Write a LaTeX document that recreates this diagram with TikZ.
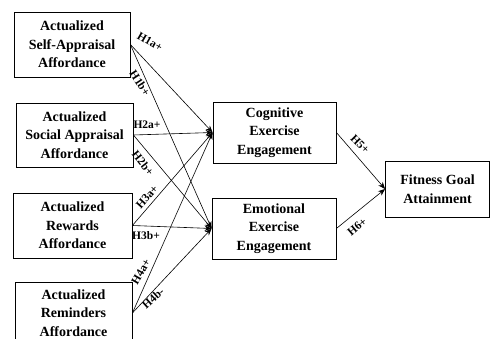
\documentclass[tikz,border=0pt]{standalone}
\usepackage{fontspec}
\setmainfont{Liberation Serif}
\usetikzlibrary{arrows.meta}
\begin{document}
\begin{tikzpicture}[x=1pt,y=-1pt,
  box/.style={draw,line width=0.8pt,align=center,inner sep=0pt,
    font=\bfseries\fontsize{14}{18.5}\selectfont},
  link/.style={line width=0.6pt,-{Stealth[length=7pt,width=5.5pt]}},
  hyp/.style={font=\bfseries\fontsize{11.5}{12}\selectfont,inner sep=0pt}]
\useasboundingbox (0,0) rectangle (490,339);
\fill[white] (0,0) rectangle (490,339);
\node[box,minimum width=116pt,minimum height=65pt] (sa) at (72,44.5) {Actualized\\Self-Appraisal\\Affordance};
\node[box,minimum width=117pt,minimum height=64pt] (so) at (74.5,135) {Actualized\\Social Appraisal\\Affordance};
\node[box,minimum width=119pt,minimum height=65pt] (rw) at (72.5,225.5) {Actualized\\Rewards\\Affordance};
\node[box,minimum width=117pt,minimum height=62pt] (rm) at (73.5,313) {Actualized\\Reminders\\Affordance};
\node[box,minimum width=123pt,minimum height=61pt] (cg) at (274.5,132.5) {Cognitive\\Exercise\\Engagement};
\node[box,minimum width=124pt,minimum height=61pt] (em) at (274,228.5) {Emotional\\Exercise\\Engagement};
\node[box,minimum width=104pt,minimum height=56pt] (fg) at (437.5,189) {Fitness Goal\\Attainment};
\foreach \s in {sa,so,rw,rm}{
  \draw[link] (\s.east) -- (cg.west);
  \draw[link] (\s.east) -- (em.west);
}
\draw[link] (cg.east) -- (fg.west);
\draw[link] (em.east) -- (fg.west);
\node[hyp,rotate=-30] (l1a) at (150,42) {H1a+};
\node[hyp,rotate=-57] (l1b) at (140,83) {H1b+};
\node[hyp] (l2a) at (147,124.5) {H2a+};
\node[hyp,rotate=-52] (l2b) at (143,163) {H2b+};
\node[hyp,rotate=48] (l3a) at (147,197) {H3a+};
\node[hyp] (l3b) at (146,235.5) {H3b+};
\node[hyp,rotate=60] (l4a) at (141,272) {H4a+};
\node[hyp,rotate=42] (l4b) at (153,298) {H4b-};
\node[hyp,rotate=-45] (l5) at (360,144) {H5+};
\node[hyp,rotate=40] (l6) at (357,227) {H6+};
\end{tikzpicture}
\end{document}
